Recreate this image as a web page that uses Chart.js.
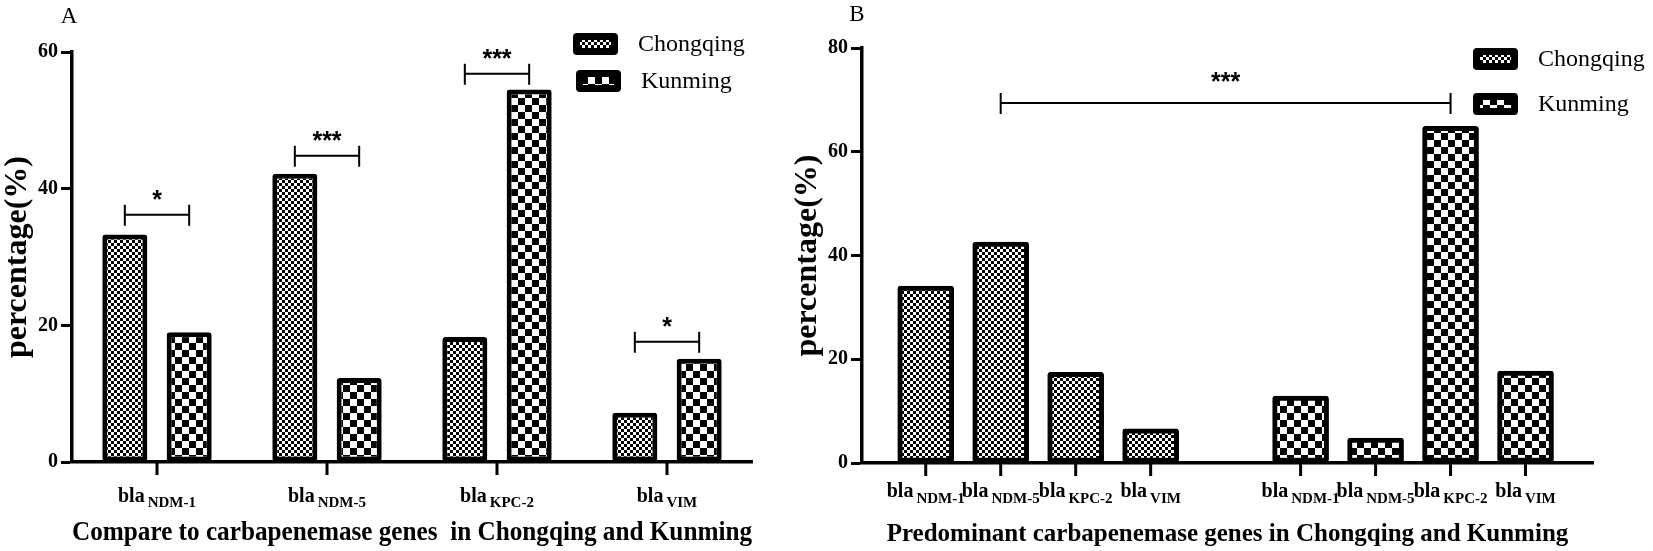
<!DOCTYPE html>
<html>
<head>
<meta charset="utf-8">
<script src="https://cdn.jsdelivr.net/npm/chart.js@4.4.1/dist/chart.umd.min.js"></script>
<style>
  body { margin: 0; background: #fff; }
  #wrap { position: relative; width: 1653px; height: 551px; }
  canvas { position: absolute; top: 0; }
  #chartA { left: 0; }
  #chartB { left: 790px; }
</style>
</head>
<body>
<div id="wrap">
  <canvas id="chartA" width="762" height="551"></canvas>
  <canvas id="chartB" width="863" height="551"></canvas>
</div>
<script>
// panel A: Chongqing vs Kunming per gene
const genesA = ['NDM-1', 'NDM-5', 'KPC-2', 'VIM'];
const chongqingA = [33.3, 42.2, 18.3, 7.2];
const kunmingA = [19.0, 12.3, 54.5, 15.1];
const ticksA = [0, 20, 40, 60];
const sigMarksA = ['*', '***', '***', '*'];
const sigLevelsA = [36.2, 44.8, 56.8, 17.6];

// panel B: genes grouped by city ('' = gap between groups)
const genesB = ['NDM-1', 'NDM-5', 'KPC-2', 'VIM', '', 'NDM-1', 'NDM-5', 'KPC-2', 'VIM'];
const chongqingB = [34.1, 42.6, 17.5, 6.6];
const kunmingB = [12.9, 4.8, 64.9, 17.7];
const ticksB = [0, 20, 40, 60, 80];
const sigPairB = [1, 7];
const sigLevelB = 69.4;
const sigMarkB = '***';

const cities = ['Chongqing', 'Kunming'];

const serif = '"Liberation Serif", "Times New Roman", serif';
const sans = '"Liberation Sans", Arial, sans-serif';

function makePattern(cell) {
    const c = document.createElement('canvas');
    c.width = c.height = cell * 2;
    const g = c.getContext('2d');
    g.fillStyle = '#fff';
    g.fillRect(0, 0, cell * 2, cell * 2);
    g.fillStyle = '#000';
    g.fillRect(0, 0, cell, cell);
    g.fillRect(cell, cell, cell, cell);
    return g.createPattern(c, 'repeat');
}
const finePattern = makePattern(3);
const coarsePattern = makePattern(7);
const patterns = [finePattern, coarsePattern];

const barStyle = {
    borderColor: '#000',
    borderWidth: 5,
    borderRadius: 3,
    borderSkipped: false
};

function roundRect(ctx, x, y, w, h, r) {
    ctx.beginPath();
    ctx.moveTo(x + r, y);
    ctx.arcTo(x + w, y, x + w, y + h, r);
    ctx.arcTo(x + w, y + h, x, y + h, r);
    ctx.arcTo(x, y + h, x, y, r);
    ctx.arcTo(x, y, x + w, y, r);
    ctx.closePath();
}

function drawBracket(ctx, x1, x2, y, mark, starLift) {
    ctx.save();
    ctx.strokeStyle = '#000';
    ctx.lineWidth = 2;
    ctx.beginPath();
    ctx.moveTo(x1, y); ctx.lineTo(x2, y);
    ctx.moveTo(x1, y - 10); ctx.lineTo(x1, y + 11);
    ctx.moveTo(x2, y - 10); ctx.lineTo(x2, y + 11);
    ctx.stroke();
    ctx.fillStyle = '#000';
    ctx.font = 'bold 25px ' + sans;
    ctx.textAlign = 'center';
    ctx.textBaseline = 'alphabetic';
    ctx.fillText(mark, (x1 + x2) / 2, y - starLift);
    ctx.restore();
}

// draws letter, legend, gene tick labels and significance brackets
function makeDecor(cfg) {
    return {
        id: 'decor',
        afterDraw(chart) {
            const { ctx, chartArea } = chart;
            const xs = chart.scales.x;
            ctx.save();
            ctx.fillStyle = '#000';

            // panel letter
            ctx.font = '23px ' + serif;
            ctx.textAlign = 'center';
            ctx.textBaseline = 'middle';
            ctx.fillText(cfg.letter, cfg.letterX, cfg.letterY);

            // legend
            cities.forEach((name, k) => {
                const bx = cfg.legend.x + k * cfg.legend.dx;
                const by = cfg.legend.y + k * cfg.legend.dy;
                ctx.fillStyle = '#000';
                roundRect(ctx, bx, by, 45, 22, 4);
                ctx.fill();
                ctx.fillStyle = patterns[k];
                ctx.fillRect(bx + 7, by + 7, 31, 8);
                ctx.fillStyle = '#000';
                ctx.font = '24px ' + serif;
                ctx.textAlign = 'left';
                ctx.textBaseline = 'middle';
                ctx.fillText(name, bx + 65, by + 12);
            });

            // gene tick marks and labels bla + subscript
            ctx.strokeStyle = '#000';
            ctx.lineWidth = 3;
            ctx.textAlign = 'left';
            ctx.textBaseline = 'alphabetic';
            cfg.labels.forEach((lab, i) => {
                if (!lab) return;
                const px = xs.getPixelForValue(i);
                ctx.beginPath();
                ctx.moveTo(px, chartArea.bottom);
                ctx.lineTo(px, chartArea.bottom + 13);
                ctx.stroke();
                ctx.font = 'bold 20px ' + serif;
                const w1 = ctx.measureText('bla').width;
                ctx.font = 'bold 15px ' + serif;
                const w2 = ctx.measureText(lab).width;
                const start = px - (w1 + 3 + w2) / 2;
                ctx.font = 'bold 20px ' + serif;
                ctx.fillText('bla', start, cfg.blaY);
                ctx.font = 'bold 15px ' + serif;
                ctx.fillText(lab, start + w1 + 3, cfg.subY);
            });
            ctx.restore();

            cfg.brackets(chart);
        }
    };
}

function yScale(ticks, titlePad) {
    return {
        min: ticks[0],
        max: ticks[ticks.length - 1],
        afterBuildTicks: s => { s.ticks = ticks.map(v => ({ value: v })); },
        afterFit: s => { s.width = 72; },
        ticks: { color: '#000', padding: 3, font: { family: serif, size: 20, weight: 'bold' } },
        grid: { drawOnChartArea: false, drawTicks: true, tickLength: 11, tickWidth: 3, tickColor: '#000' },
        border: { display: true, width: 3.5, color: '#000' },
        title: {
            display: true,
            text: 'percentage(%)',
            color: '#000',
            font: { family: serif, size: 32, weight: 'bold', lineHeight: 1 },
            padding: { top: titlePad, bottom: 0 }
        }
    };
}

// ---- Panel A ----
new Chart(document.getElementById('chartA'), {
    type: 'bar',
    data: {
        labels: genesA,
        datasets: [
            { label: cities[0], data: chongqingA, backgroundColor: finePattern, ...barStyle },
            { label: cities[1], data: kunmingA, backgroundColor: coarsePattern, ...barStyle }
        ]
    },
    options: {
        responsive: false,
        animation: false,
        categoryPercentage: 0.757,
        barPercentage: 0.70,
        layout: { padding: { left: 0, right: 10, top: 52, bottom: 0 } },
        plugins: { legend: { display: false }, tooltip: { enabled: false } },
        scales: {
            x: {
                afterFit: s => { s.height = 89; },
                grid: { display: false },
                ticks: { display: false },
                border: { display: true, width: 3.5, color: '#000' },
                title: {
                    display: true,
                    text: 'Compare to carbapenemase genes  in Chongqing and Kunming',
                    color: '#000',
                    font: { family: serif, size: 27, weight: 'bold', lineHeight: 1 },
                    padding: { top: 0, bottom: 4 }
                }
            },
            y: yScale(ticksA, 2)
        }
    },
    plugins: [makeDecor({
        letter: 'A', letterX: 69, letterY: 17,
        legend: { x: 573, y: 33, dx: 3, dy: 37 },
        labels: genesA, blaY: 502, subY: 507,
        brackets(chart) {
            const mc = chart.getDatasetMeta(0), mk = chart.getDatasetMeta(1);
            const ys = chart.scales.y;
            sigLevelsA.forEach((lv, i) => {
                drawBracket(chart.ctx, mc.data[i].x, mk.data[i].x, ys.getPixelForValue(lv), sigMarksA[i], 7);
            });
        }
    })]
});

// ---- Panel B ----
const gapB = genesB.indexOf('');
new Chart(document.getElementById('chartB'), {
    type: 'bar',
    data: {
        datasets: [
            { label: cities[0], data: chongqingB.map((v, i) => ({ x: i, y: v })), backgroundColor: finePattern, ...barStyle },
            { label: cities[1], data: kunmingB.map((v, i) => ({ x: gapB + 1 + i, y: v })), backgroundColor: coarsePattern, ...barStyle }
        ]
    },
    options: {
        responsive: false,
        animation: false,
        grouped: false,
        barThickness: 56,
        layout: { padding: { left: 0, right: 60, top: 48, bottom: 0 } },
        plugins: { legend: { display: false }, tooltip: { enabled: false } },
        scales: {
            x: {
                type: 'linear',
                min: -0.85,
                max: 8.9,
                offset: false,
                afterFit: s => { s.height = 88; },
                grid: { display: false },
                ticks: { display: false },
                border: { display: true, width: 3.5, color: '#000' },
                title: {
                    display: true,
                    text: 'Predominant carbapenemase genes in Chongqing and Kunming',
                    color: '#000',
                    font: { family: serif, size: 25, weight: 'bold', lineHeight: 1 },
                    padding: { top: 0, bottom: 4 }
                }
            },
            y: yScale(ticksB, 2)
        }
    },
    plugins: [makeDecor({
        letter: 'B', letterX: 67, letterY: 15,
        legend: { x: 683, y: 48, dx: 0, dy: 45 },
        labels: genesB, blaY: 497, subY: 503,
        brackets(chart) {
            const xs = chart.scales.x, ys = chart.scales.y;
            drawBracket(chart.ctx, xs.getPixelForValue(sigPairB[0]), xs.getPixelForValue(sigPairB[1]),
                ys.getPixelForValue(sigLevelB), sigMarkB, 13);
        }
    })]
});
</script>
</body>
</html>
